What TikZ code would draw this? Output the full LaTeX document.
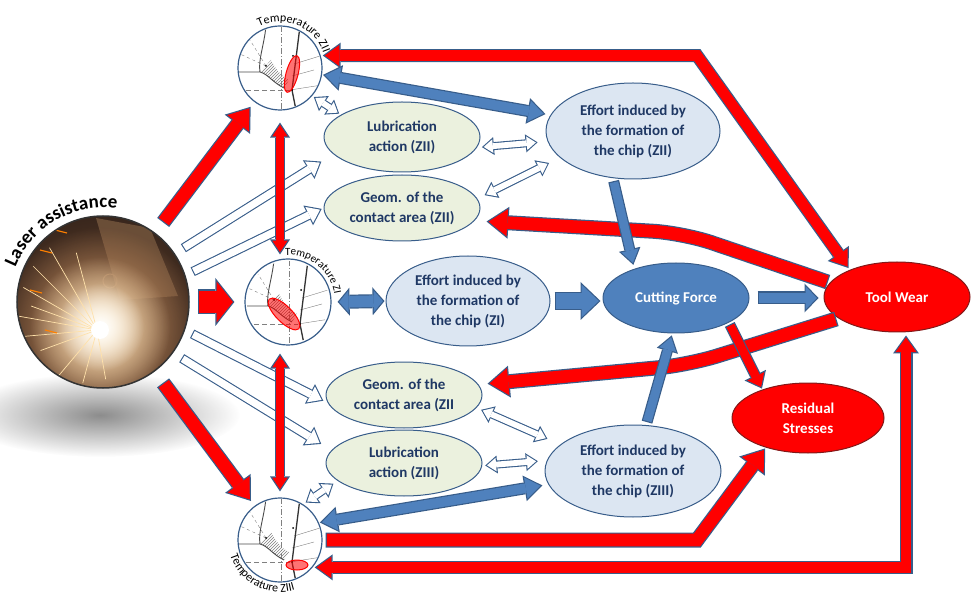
\documentclass[tikz,border=0pt]{standalone}
\usepackage{fontspec}
\setmainfont{Carlito}
\usepackage{tikz}
\usetikzlibrary{arrows.meta, shapes.geometric, decorations.text, patterns, fadings}

\definecolor{edgeblue}{RGB}{56,93,138}
\definecolor{fillblue}{RGB}{79,129,189}
\definecolor{paleblue}{RGB}{220,230,242}
\definecolor{palegreen}{RGB}{235,241,222}
\definecolor{textblue}{RGB}{31,56,100}
\definecolor{darkred}{RGB}{130,25,25}
\definecolor{photodark}{RGB}{38,27,22}
\definecolor{glowyellow}{RGB}{255,238,200}
\definecolor{glowtan}{RGB}{214,158,108}
\definecolor{glowbrown}{RGB}{110,72,48}
\definecolor{toolbrown}{RGB}{150,115,85}
\definecolor{sparkcol}{RGB}{255,225,170}

\tikzfading[name=softglow, inner color=transparent!0, outer color=transparent!100]

\tikzset{
  % block arrows: the edge colour first, the fill drawn over it
  redone/.style 2 args={draw=edgeblue, line width=15pt, shorten <=#1, shorten >=#2,
    -{Triangle[width=32pt,length=22pt,line width=0pt]},
    postaction={draw=red, line width=12.6pt, shorten <=#1+1.2pt, shorten >=#2+2pt,
      -{Triangle[width=27.3pt,length=18.8pt,line width=0pt]}}},
  redfat/.style 2 args={draw=edgeblue, line width=25pt, shorten <=#1, shorten >=#2,
    -{Triangle[width=48pt,length=19pt,line width=0pt]},
    postaction={draw=red, line width=22.6pt, shorten <=#1+1.2pt, shorten >=#2+1.5pt,
      -{Triangle[width=41.1pt,length=16.3pt,line width=0pt]}}},
  redsmall/.style 2 args={draw=edgeblue, line width=11pt, shorten <=#1, shorten >=#2,
    -{Triangle[width=24pt,length=15pt,line width=0pt]},
    postaction={draw=red, line width=8.6pt, shorten <=#1+1.2pt, shorten >=#2+1.9pt,
      -{Triangle[width=19pt,length=11.9pt,line width=0pt]}}},
  redtwo/.style 2 args={draw=edgeblue, line width=13pt, shorten <=#1, shorten >=#2,
    {Triangle[width=26pt,length=18pt,line width=0pt]}-{Triangle[width=26pt,length=18pt,line width=0pt]},
    postaction={draw=red, line width=10.6pt, shorten <=#1+2pt, shorten >=#2+2pt,
      {Triangle[width=21.3pt,length=14.75pt,line width=0pt]}-{Triangle[width=21.3pt,length=14.75pt,line width=0pt]}}},
  redthin/.style 2 args={draw=edgeblue, line width=10pt, shorten <=#1, shorten >=#2,
    {Triangle[width=20pt,length=15pt,line width=0pt]}-{Triangle[width=20pt,length=15pt,line width=0pt]},
    postaction={draw=red, line width=7.6pt, shorten <=#1+2.2pt, shorten >=#2+2.2pt,
      {Triangle[width=15.5pt,length=11.6pt,line width=0pt]}-{Triangle[width=15.5pt,length=11.6pt,line width=0pt]}}},
  bluetwo/.style 2 args={draw=edgeblue, line width=12pt, shorten <=#1, shorten >=#2,
    {Triangle[width=26pt,length=18pt,line width=0pt]}-{Triangle[width=26pt,length=18pt,line width=0pt]},
    postaction={draw=fillblue, line width=9.6pt, shorten <=#1+2pt, shorten >=#2+2pt,
      {Triangle[width=21.3pt,length=14.75pt,line width=0pt]}-{Triangle[width=21.3pt,length=14.75pt,line width=0pt]}}},
  blueone/.style 2 args={draw=edgeblue, line width=11pt, shorten <=#1, shorten >=#2,
    -{Triangle[width=22pt,length=16pt,line width=0pt]},
    postaction={draw=fillblue, line width=8.6pt, shorten <=#1+1.2pt, shorten >=#2+2.1pt,
      -{Triangle[width=17.5pt,length=12.7pt,line width=0pt]}}},
  bluefat/.style 2 args={draw=edgeblue, line width=18pt, shorten <=#1, shorten >=#2,
    -{Triangle[width=38pt,length=20pt,line width=0pt]},
    postaction={draw=fillblue, line width=15.6pt, shorten <=#1+1.2pt, shorten >=#2+1.7pt,
      -{Triangle[width=32.4pt,length=17.1pt,line width=0pt]}}},
  bluemid/.style 2 args={draw=edgeblue, line width=13pt, shorten <=#1, shorten >=#2,
    -{Triangle[width=29pt,length=14pt,line width=0pt]},
    postaction={draw=fillblue, line width=10.6pt, shorten <=#1+1.2pt, shorten >=#2+1.7pt,
      -{Triangle[width=23pt,length=11.1pt,line width=0pt]}}},
  bluedbl/.style 2 args={draw=edgeblue, line width=14pt, shorten <=#1, shorten >=#2,
    {Triangle[width=28pt,length=12pt,line width=0pt]}-{Triangle[width=28pt,length=12pt,line width=0pt]},
    postaction={draw=fillblue, line width=11.6pt, shorten <=#1+1.6pt, shorten >=#2+1.6pt,
      {Triangle[width=21.5pt,length=9.2pt,line width=0pt]}-{Triangle[width=21.5pt,length=9.2pt,line width=0pt]}}},
  whiteone/.style 2 args={draw=edgeblue, line width=9.5pt, shorten <=#1, shorten >=#2,
    -{Triangle[width=22pt,length=15pt,line width=0pt]},
    postaction={draw=white, line width=7.3pt, shorten <=#1+1.1pt, shorten >=#2+1.9pt,
      -{Triangle[width=17.7pt,length=12pt,line width=0pt]}}},
  whitetwo/.style 2 args={draw=edgeblue, line width=8pt, shorten <=#1, shorten >=#2,
    {Triangle[width=18pt,length=12pt,line width=0pt]}-{Triangle[width=18pt,length=12pt,line width=0pt]},
    postaction={draw=white, line width=5.8pt, shorten <=#1+1.8pt, shorten >=#2+1.8pt,
      {Triangle[width=13.6pt,length=9.1pt,line width=0pt]}-{Triangle[width=13.6pt,length=9.1pt,line width=0pt]}}}
}

\begin{document}
\begin{tikzpicture}[x=1pt, y=-1pt]
\useasboundingbox (0,0) rectangle (974,601);

% shadow and photo of the laser
\fill[black!45, path fading=softglow] (100,415) ellipse [x radius=140pt, y radius=42pt];
\begin{scope}
  \clip (103,302) circle (86pt);
  \fill[photodark] (103,302) circle (86pt);
  \fill[toolbrown!70!black] (96,218) -- (150,228) -- (178,296) -- (120,300) -- cycle;
  \draw[toolbrown, line width=1pt] (110,281) circle (7pt);
  \fill[glowbrown, path fading=softglow] (100,327) circle (150pt);
  \fill[glowtan, path fading=softglow] (100,327) circle (100pt);
  \fill[glowyellow, path fading=softglow] (100,327) circle (70pt);
  \fill[white, path fading=softglow] (100,327) circle (44pt);
  \foreach \a/\l in {105/80pt,120/95pt,135/90pt,150/85pt,160/70pt,170/90pt,185/75pt,200/60pt,230/60pt,255/55pt,280/50pt}
    \draw[sparkcol, line width=0.7pt] (97,330) -- ++(\a:\l);
  \foreach \x/\y in {40/250,30/290,55/230,45/330}
    \draw[orange, line width=1.2pt] (\x,\y) -- ++(12,3);
  \fill[white] (100,330) circle (9pt);
\end{scope}
\node[circle, minimum size=172pt, draw=black!80, line width=1.5pt] (laser) at (103,302) {};
\path[shift={(laser)}, decorate, decoration={text along path, text align=center,
  text={|\bfseries\fontsize{19}{19}\selectfont|Laser assistance}}] (178:94pt) arc[start angle=178, end angle=62, radius=94pt];

\begin{scope}[every node/.style={circle, draw=edgeblue, fill=white, line width=1.2pt, minimum size=84pt}]
  \node (tII) at (280,68) {};
  \node[minimum size=86pt] (tI) at (288,302) {};
  \node (tIII) at (280,540) {};
\end{scope}

% sketch of the cutting zone in each circle
\foreach \nm/\ex/\ey/\ea/\ew/\eh in {tII/12/6/75/19pt/6pt, tI/-4/12/-45/21pt/8pt, tIII/17/25/0/11pt/5pt}{
  \begin{scope}[shift={(\nm)}]
    \clip (0,0) circle (41pt);
    \draw[gray, line width=0.4pt, dash pattern=on 6pt off 2pt on 1pt off 2pt] (1,-42) -- (1,42);
    \draw[gray, line width=0.4pt, dash pattern=on 5pt off 3pt] (-42,22) -- (10,22);
    \draw[gray, line width=0.4pt] (10,22) -- (42,17) (14,-4) -- (40,-12) (12,8) -- (34,2);
    \draw[gray, line width=0.4pt, dashed] (-14,-2) -- (-30,-28) (-14,-2) -- (-40,-14);
    \fill[pattern=north east lines, pattern color=gray] (-20,4) .. controls (-12,6) and (-8,14) .. (4,20) -- (9,12) .. controls (0,8) and (-6,-2) .. (-9,-8) -- cycle;
    \draw[black!70, line width=0.9pt] (-42,4) -- (-20,4) .. controls (-12,6) and (-8,14) .. (4,20) (-14,-42) .. controls (-16,-22) and (-22,-8) .. (-20,4);
    \draw[black!80, line width=1.3pt] (20,-42) -- (12,22) -- (16,42);
    \fill[black] (-14,-2) circle (1pt) (13,-12) circle (1pt) (12,22) circle (1pt);
    \draw[red, line width=1pt, fill=red, fill opacity=0.55, rotate around={\ea:(\ex,\ey)}] (\ex,\ey) ellipse [x radius=\ew, y radius=\eh];
  \end{scope}}

\path[shift={(tII)}, decorate, decoration={text along path, text align=center,
  text={|\fontsize{12}{12}\selectfont|Temperature ZII}}] (158:46pt) arc[start angle=158, end angle=-22, radius=46pt];
\path[shift={(tI)}, decorate, decoration={text along path, text align=center,
  text={|\fontsize{11}{11}\selectfont|Temperature ZI}}] (141:47pt) arc[start angle=141, end angle=-38, radius=47pt];
\path[shift={(tIII)}, decorate, decoration={text along path, text align=center,
  text={|\fontsize{12}{12}\selectfont|Temperature ZIII}}] (152:52pt) arc[start angle=152, end angle=332, radius=52pt];

\begin{scope}[every node/.style={ellipse, draw=edgeblue, line width=1pt, inner sep=0pt, align=center,
    text=textblue, font=\bfseries\fontsize{15}{20}\selectfont}]
  \node[fill=palegreen, minimum width=156pt, minimum height=70pt] (lubII) at (402,137) {Lubrication\\action (ZII)};
  \node[fill=palegreen, minimum width=156pt, minimum height=66pt] (geoII) at (402,208) {Geom. of the\\contact area (ZII)};
  \node[fill=palegreen, minimum width=156pt, minimum height=66pt] (geoIII) at (404,395) {Geom. of the\\contact area (ZII};
  \node[fill=palegreen, minimum width=156pt, minimum height=66pt] (lubIII) at (404,463) {Lubrication\\action (ZIII)};
  \node[fill=paleblue, minimum width=174pt, minimum height=96pt] (effII) at (633,131) {Effort induced by\\the formation of\\the chip (ZII)};
  \node[fill=paleblue, minimum width=164pt, minimum height=90pt] (effI) at (468,301) {Effort induced by\\the formation of\\the chip (ZI)};
  \node[fill=paleblue, minimum width=176pt, minimum height=92pt] (effIII) at (633,471) {Effort induced by\\the formation of\\the chip (ZIII)};
  \node[fill=fillblue, text=white, minimum width=146pt, minimum height=70pt] (force) at (676,298) {Cutting Force};
  \node[fill=red, draw=darkred, text=white, minimum width=146pt, minimum height=70pt] (wear) at (897,297) {Tool Wear};
  \node[fill=red, draw=darkred, text=white, minimum width=152pt, minimum height=70pt] (resid) at (808,418) {Residual\\Stresses};
\end{scope}

\coordinate (bendT) at (697,56);
\coordinate (bendA) at (683,233);
\coordinate (bendB) at (688,365);
\coordinate (bendR) at (697,540);
\coordinate (bendD) at (906,568);

% white arrows
\draw[whiteone={10pt}{14pt}] (laser.34) -- (lubII.194);
\draw[whiteone={8pt}{2pt}] (laser.18) -- (geoII.west);
\draw[whiteone={8pt}{5pt}] (laser.-19) -- (geoIII.186);
\draw[whiteone={10pt}{12pt}] (laser.-36) -- (lubIII.170);
\draw[whitetwo={2pt}{2pt}] (tII.-41) -- (lubII.160);
\draw[whitetwo={5pt}{10pt}] (lubII.-8) -- (effII.187);
\draw[whitetwo={8pt}{12pt}] (geoII.7) -- (effII.200);
\draw[whitetwo={5pt}{14pt}] (geoIII.-10) -- (effIII.160);
\draw[whitetwo={3pt}{9pt}] (lubIII.-2) -- (effIII.173);
\draw[whitetwo={3pt}{5pt}] (tIII.57) -- (lubIII.195);

% red arrows
\draw[redone={13pt}{6pt}] (laser) -- (tII);
\draw[redfat={8pt}{10pt}] (laser.east) -- (tI.west);
\draw[redone={14pt}{6pt}] (laser) -- (tIII);
\draw[redthin={12pt}{4pt}] (tII.south) -- (tII.south |- tI.north);
\draw[redthin={8pt}{6pt}] (tIII.north |- tI.south) -- (tIII.north);
\draw[redtwo={2pt}{2pt}] (tII.17) -- (tII.17 -| bendT) -- (wear.150);
\draw[redone={2pt}{12pt}, rounded corners=30pt] (wear.168) -- (bendA) -- (geoII.-10);
\draw[redone={2pt}{9pt}, rounded corners=30pt] (wear.200) -- (bendB) -- (geoIII.8);
\draw[redsmall={2pt}{1pt}] (force.-25) -- (resid.148);
\draw[redone={3pt}{1pt}] (tIII.east) -- (tIII.east -| bendR) -- (resid.215);
\draw[redtwo={2pt}{3pt}] (tIII.-40) -- (tIII.-40 -| bendD) -- (bendD |- wear.south);

% blue arrows
\draw[bluetwo={1pt}{5pt}] (tII.-9) -- (effII.169);
\draw[bluetwo={1pt}{6pt}] (tIII.24) -- (effIII.189);
\draw[bluedbl={6pt}{1pt}] (tI.east) -- (effI.west);
\draw[bluefat={4pt}{2pt}] (effI.east) -- (effI.east -| force.west);
\draw[bluemid={8pt}{5pt}] (force.east) -- (force.east -| wear.west);
\draw[blueone={3pt}{4pt}] (effII.247) -- (force.145);
\draw[blueone={3pt}{2pt}] (effIII.74) -- (force.264);

\end{tikzpicture}
\end{document}
